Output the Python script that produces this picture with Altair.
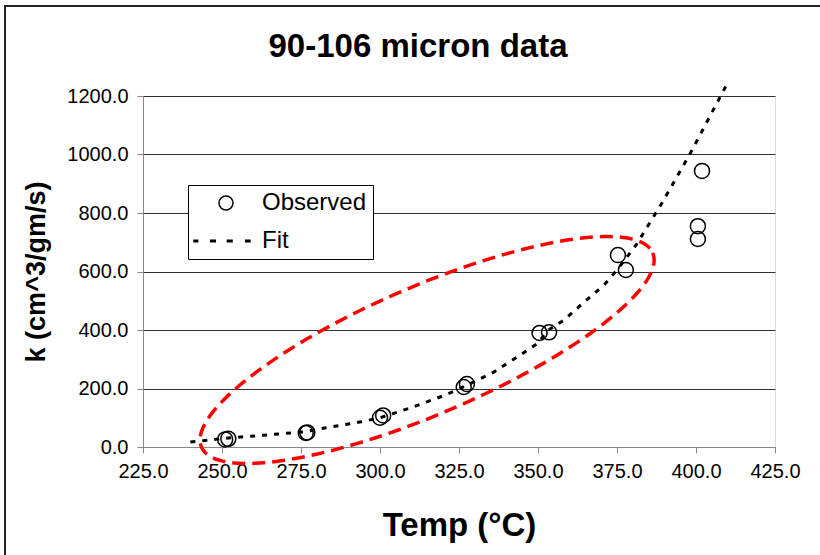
import altair as alt
import numpy as np
import pandas as pd

# ---- data ----
obs_T = [251, 252, 276.5, 277, 300, 301, 326.5, 327.5, 350.5, 353.5, 375.3, 377.8, 400.6, 400.6, 401.9]
obs_k = [26, 28, 48, 50, 100, 108, 205, 215, 390, 392, 656, 605, 755, 711, 944]

fit_T = [240, 251, 263, 276, 283, 294, 300, 310, 320, 327, 336, 344, 350, 353, 358, 363, 371, 375, 381, 389, 398, 410]
fit_k = [17, 30, 40, 52, 66, 86, 100, 135, 175, 208, 256, 312, 355, 398, 432, 480, 555, 605, 690, 830, 1000, 1245]

x_ticks = [225, 250, 275, 300, 325, 350, 375, 400, 425]
y_ticks = [0, 200, 400, 600, 800, 1000, 1200]

# annotation ellipse (data units): centre and two semi-axis vectors
ell_center = (314.9, 331.6)
ell_major = (71.4, 332.0)
ell_minor = (8.0, -200.6)

series_names = ["Observed", "Fit"]

FONT = "Liberation Sans"

obs_df = pd.DataFrame({"T": obs_T, "k": obs_k, "series": "Observed"})
fit_df = pd.DataFrame({"T": fit_T, "k": fit_k, "i": range(len(fit_T))})

t = np.linspace(0, 2 * np.pi, 241)
ell_df = pd.DataFrame({
    "T": ell_center[0] + ell_major[0] * np.cos(t) + ell_minor[0] * np.sin(t),
    "k": ell_center[1] + ell_major[1] * np.cos(t) + ell_minor[1] * np.sin(t),
    "i": range(len(t)),
})

xscale = alt.Scale(domain=[225, 425], nice=False, zero=False)
yscale = alt.Scale(domain=[0, 1200], nice=False)

xaxis = alt.Axis(values=x_ticks, format=".1f", grid=False, title="Temp (°C)",
                 labelFontSize=20, titleFontSize=33, titleFontWeight="bold",
                 tickSize=6, labelPadding=8, titlePadding=28, labelFlush=False)
yaxis = alt.Axis(values=y_ticks, format=".1f", grid=True, title="k (cm^3/gm/s)",
                 gridColor="#303030", gridWidth=1,
                 labelFontSize=20, titleFontSize=27, titleFontWeight="bold",
                 tickSize=6, labelPadding=9, titlePadding=16, labelFlush=False)

fit_path = ("M-4.57,-0.1L-4.05,-0.1L-4.05,0.1L-4.57,0.1Z"
            "M-2.19,-0.1L-1.53,-0.1L-1.53,0.1L-2.19,0.1Z"
            "M0.2,-0.1L0.86,-0.1L0.86,0.1L0.2,0.1Z"
            "M2.81,-0.1L3.42,-0.1L3.42,0.1L2.81,0.1Z")

frame_top = alt.Chart(obs_df).mark_rule(color="#222222", strokeWidth=2).encode(
    x=alt.value(-138), x2=alt.value(700), y=alt.value(-90))
frame_left = alt.Chart(obs_df).mark_rule(color="#222222", strokeWidth=2).encode(
    x=alt.value(-138), y=alt.value(-91), y2=alt.value(470))

fit_line = alt.Chart(fit_df).mark_line(
    color="black", strokeWidth=3, strokeDash=[5, 7], clip=False
).encode(
    x=alt.X("T:Q", scale=xscale, axis=xaxis),
    y=alt.Y("k:Q", scale=yscale, axis=yaxis),
    order="i:O",
)

points = alt.Chart(obs_df).mark_point(
    filled=False, size=225, strokeWidth=1.5, color="black", opacity=1
).encode(
    x=alt.X("T:Q", scale=xscale),
    y=alt.Y("k:Q", scale=yscale),
    shape=alt.Shape("series:N",
                    scale=alt.Scale(domain=series_names, range=["circle", fit_path]),
                    legend=alt.Legend(title=None, orient="none", legendX=45, legendY=89,
                                      fillColor="white", strokeColor="black", padding=6,
                                      labelFontSize=24, labelFont=FONT, labelColor="black",
                                      rowPadding=14, symbolSize=196, symbolStrokeWidth=1.5,
                                      symbolStrokeColor="black", symbolOffset=20,
                                      labelOffset=24)),
)

ellipse = alt.Chart(ell_df).mark_line(
    color="#FF0000", strokeWidth=3.5, strokeDash=[13, 7], clip=False
).encode(
    x=alt.X("T:Q", scale=xscale),
    y=alt.Y("k:Q", scale=yscale),
    order="i:Q",
)

# the frame rules reach 91 px above the plot, so the title offset is measured from there
chart = alt.layer(frame_top, frame_left, fit_line, points, ellipse).properties(
    width=632, height=351,
    autosize=alt.AutoSizeParams(type="none"),
    padding={"left": 143, "top": 96, "right": 45, "bottom": 108},
    title=alt.Title("90-106 micron data", fontSize=33, font=FONT, fontWeight="bold",
                    frame="group", anchor="middle", offset=-60, dx=-41,
                    color="black"),
).configure_view(
    stroke="#8c8c8c", strokeWidth=1
).configure_axis(
    labelFont=FONT, titleFont=FONT, labelColor="black", titleColor="black",
    domainColor="black", tickColor="black", gridColor="#303030", gridWidth=1,
    domainWidth=1,
).configure(background="white")

chart.save("out.html", embed_options={"renderer": "svg", "actions": False})
